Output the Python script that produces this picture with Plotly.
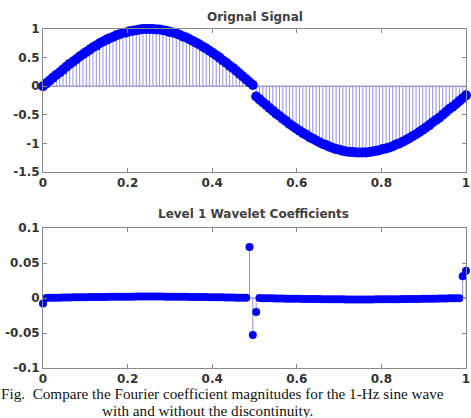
import numpy as np
import plotly.graph_objects as go

# ---------------- data ----------------
t_signal = np.linspace(0, 1, 128)
signal = [
    0.00, 0.05, 0.10, 0.15, 0.20, 0.24, 0.29, 0.34, 0.39, 0.43,
    0.47, 0.52, 0.56, 0.60, 0.64, 0.68, 0.71, 0.75, 0.78, 0.81,
    0.84, 0.86, 0.89, 0.91, 0.93, 0.94, 0.96, 0.97, 0.98, 0.99,
    1.00, 1.00, 1.00, 1.00, 0.99, 0.99, 0.98, 0.97, 0.95, 0.94,
    0.92, 0.90, 0.87, 0.85, 0.82, 0.79, 0.76, 0.73, 0.69, 0.66,
    0.62, 0.58, 0.54, 0.50, 0.45, 0.41, 0.36, 0.32, 0.27, 0.22,
    0.17, 0.12, 0.07, 0.02,
    -0.18, -0.23, -0.28, -0.33, -0.38, -0.43, -0.48, -0.52, -0.57, -0.61,
    -0.66, -0.70, -0.74, -0.78, -0.82, -0.85, -0.89, -0.92, -0.95, -0.98,
    -1.01, -1.03, -1.06, -1.08, -1.10, -1.11, -1.13, -1.14, -1.15, -1.15,
    -1.16, -1.16, -1.16, -1.16, -1.15, -1.14, -1.13, -1.12, -1.10, -1.09,
    -1.07, -1.05, -1.02, -1.00, -0.97, -0.94, -0.91, -0.87, -0.84, -0.80,
    -0.76, -0.72, -0.68, -0.63, -0.59, -0.55, -0.50, -0.45, -0.40, -0.36,
    -0.31, -0.26, -0.21, -0.16,
]

t_coef = np.linspace(0, 1, 128)
coef = [
    -0.008,
    0.0001, 0.0002, 0.0003, 0.0004, 0.0005, 0.0006, 0.0007, 0.0008, 0.0009, 0.0009,
    0.0010, 0.0011, 0.0012, 0.0013, 0.0014, 0.0014, 0.0015, 0.0016, 0.0016, 0.0017,
    0.0017, 0.0018, 0.0018, 0.0019, 0.0019, 0.0019, 0.0019, 0.0020, 0.0020, 0.0020,
    0.0020, 0.0020, 0.0020, 0.0020, 0.0020, 0.0020, 0.0019, 0.0019, 0.0019, 0.0018,
    0.0018, 0.0017, 0.0017, 0.0016, 0.0016, 0.0015, 0.0015, 0.0014, 0.0013, 0.0012,
    0.0012, 0.0011, 0.0010, 0.0009, 0.0008, 0.0007, 0.0006, 0.0005, 0.0004, 0.0003,
    0.0002,
    0.073, -0.053, -0.020,
    -0.0001, -0.0002, -0.0003, -0.0004, -0.0005, -0.0006, -0.0007, -0.0008, -0.0009, -0.0010,
    -0.0011, -0.0012, -0.0012, -0.0013, -0.0014, -0.0015, -0.0015, -0.0016, -0.0016, -0.0017,
    -0.0017, -0.0018, -0.0018, -0.0019, -0.0019, -0.0019, -0.0020, -0.0020, -0.0020, -0.0020,
    -0.0020, -0.0020, -0.0020, -0.0020, -0.0020, -0.0019, -0.0019, -0.0019, -0.0019, -0.0018,
    -0.0018, -0.0017, -0.0017, -0.0016, -0.0016, -0.0015, -0.0014, -0.0014, -0.0013, -0.0012,
    -0.0011, -0.0010, -0.0009, -0.0009, -0.0008, -0.0007, -0.0006, -0.0005, -0.0004, -0.0003,
    -0.0002,
    0.031, 0.039,
]
assert len(signal) == 128 and len(coef) == 128

x_ticks = [0, 0.2, 0.4, 0.6, 0.8, 1]
x_labels = ["0", "0.2", "0.4", "0.6", "0.8", "1"]
y1_ticks = [-1.5, -1, -0.5, 0, 0.5, 1]
y1_labels = ["-1.5", "-1", "-0.5", "0", "0.5", "1"]
y2_ticks = [-0.1, -0.05, 0, 0.05, 0.1]
y2_labels = ["-0.1", "-0.05", "0", "0.05", "0.1"]

title_top = "Orignal Signal"
title_bottom = "Level 1 Wavelet Coefficients"
caption1 = "Fig.\u00a0 Compare the Fourier coefficient magnitudes for the 1-Hz sine wave"
caption2 = "with and without the discontinuity."

# ---------------- figure ----------------
W, H = 471, 418
BLUE = "#0000ff"
STEM = "#9090ee"


def stems(xs, ys):
    sx, sy = [], []
    for x, y in zip(xs, ys):
        sx += [x, x, None]
        sy += [0, y, None]
    return sx, sy


fig = go.Figure()

for xs, ys, xa, ya, msize in [(t_signal, signal, "x", "y", 10),
                              (t_coef, coef, "x2", "y2", 8)]:
    sx, sy = stems(xs, ys)
    fig.add_trace(go.Scatter(x=sx, y=sy, mode="lines", xaxis=xa, yaxis=ya,
                             line=dict(color=STEM, width=1), hoverinfo="skip"))
    fig.add_trace(go.Scatter(x=[0, 1], y=[0, 0], mode="lines", xaxis=xa, yaxis=ya,
                             line=dict(color="#7878c8", width=1), hoverinfo="skip"))
    fig.add_trace(go.Scatter(x=list(xs), y=ys, mode="markers", xaxis=xa, yaxis=ya,
                             cliponaxis=False,
                             marker=dict(color=BLUE, size=msize, line=dict(width=0))))

tick_font = dict(family="DejaVu Sans", size=12, color="#333333", weight="bold")
common = dict(showline=True, linecolor="#8a8a8a", linewidth=1, mirror="ticks",
              ticks="inside", ticklen=4, tickcolor="#8a8a8a", showgrid=False,
              zeroline=False, tickfont=tick_font, automargin=False)

fig.update_layout(
    width=W, height=H,
    margin=dict(l=0, r=0, t=0, b=0),
    paper_bgcolor="white", plot_bgcolor="white",
    showlegend=False,
    xaxis=dict(domain=[43 / W, 466 / W], range=[0, 1], tickvals=x_ticks,
               ticktext=x_labels, anchor="y", **common),
    yaxis=dict(domain=[1 - 172 / H, 1 - 29 / H], range=[-1.5, 1], tickvals=y1_ticks,
               ticktext=y1_labels, anchor="x", **common),
    xaxis2=dict(domain=[43 / W, 466 / W], range=[0, 1], tickvals=x_ticks,
                ticktext=x_labels, anchor="y2", **common),
    yaxis2=dict(domain=[1 - 368 / H, 1 - 228 / H], range=[-0.1, 0.1], tickvals=y2_ticks,
                ticktext=y2_labels, anchor="x2", **common),
)

title_font = dict(family="DejaVu Sans", size=12, color="#404040", weight="bold")
cap_font = dict(family="Liberation Serif", size=15.2, color="#111111")
fig.add_annotation(x=254.5 / W, y=1 - 16.5 / H, xref="paper", yref="paper",
                   text=title_top, showarrow=False, font=title_font,
                   xanchor="center", yanchor="middle")
fig.add_annotation(x=253 / W, y=1 - 214 / H, xref="paper", yref="paper",
                   text=title_bottom, showarrow=False, font=title_font,
                   xanchor="center", yanchor="middle")
fig.add_annotation(x=0, y=1 - 393 / H, xref="paper", yref="paper",
                   text=caption1, showarrow=False, font=cap_font,
                   xanchor="left", yanchor="middle", borderpad=0)
fig.add_annotation(x=100 / W, y=1 - 410 / H, xref="paper", yref="paper",
                   text=caption2, showarrow=False, font=cap_font,
                   xanchor="left", yanchor="middle")

fig.write_html("out.html")
